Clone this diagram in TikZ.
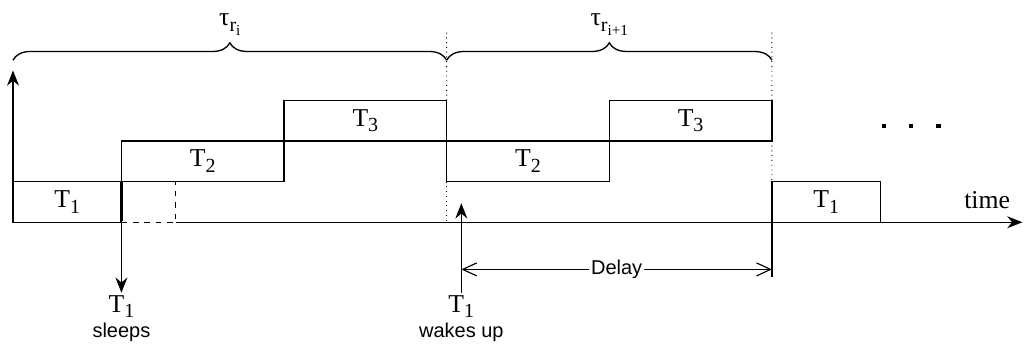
\documentclass[tikz,border=0pt]{standalone}
\usepackage{fontspec}
\setmainfont{Liberation Serif}
\setsansfont{Liberation Sans}
\usetikzlibrary{positioning,arrows.meta,decorations.pathreplacing}
\newcommand{\tsub}[1]{\raisebox{-0.22em}{\fontsize{10.5}{12}\selectfont #1}}
\newcommand{\tsubsub}[1]{\raisebox{-0.2em}{\fontsize{8}{9}\selectfont #1}}
\tikzset{
  slot/.style={draw, rectangle, anchor=south west, inner sep=0pt, outer sep=0pt,
    minimum height=0.75cm, font=\fontsize{13.5}{16}\selectfont},
  slotlabel/.style={font=\fontsize{13.5}{16}\selectfont, inner sep=1pt},
  notelabel/.style={font=\sffamily\fontsize{10.5}{12.5}\selectfont, inner sep=1pt},
  axisarrow/.style={-{Stealth[length=2.8mm,width=2.2mm]}, line width=0.7pt},
  delayarrow/.style={{Straight Barb[length=2.6mm,width=2.4mm]}-{Straight Barb[length=2.6mm,width=2.4mm]}, line width=0.6pt},
  guide/.style={dotted, line width=0.5pt},
  spanbrace/.style={decorate, decoration={brace, amplitude=0.32cm}, line width=0.7pt},
  dotsq/.style={fill, rectangle, inner sep=0pt, minimum size=0.08cm},
}

\begin{document}
\begin{tikzpicture}[line width=0.7pt]
  \useasboundingbox (-0.24,-2.25) rectangle (18.65,4.10);
  % axes
  \coordinate (origin) at (0,0);
  \coordinate (ytop) at (0,2.8);
  \coordinate (xend) at (18.62,0);
  \draw[axisarrow] (origin) -- (ytop);
  \draw[axisarrow] (origin) -- (xend);
  \node[slotlabel] (timelbl) at (17.97,0.41) {time};

  % first round
  \node[slot, minimum width=2cm] (t1a) at (0,0) {T\tsub{1}};
  \node[slot, minimum width=3cm] (t2a) at (2,0.75) {T\tsub{2}};
  \node[slot, minimum width=3cm] (t3a) at (5,1.5) {T\tsub{3}};
  % second round
  \node[slot, minimum width=3cm] (t2b) at (8,0.75) {T\tsub{2}};
  \node[slot, minimum width=3cm] (t3b) at (11,1.5) {T\tsub{3}};
  \node[slot, minimum width=2cm] (t1b) at (14,0) {T\tsub{1}};
  \foreach \i/\x in {1/16.07,2/16.57,3/17.07}
    \node[dotsq] (dots\i) at (\x,1.77) {};

  % T1 goes to sleep
  \coordinate (idle) at (3,0);
  \draw[line width=1.4pt] (t1a.south east) -- (t1a.north east);
  \draw[white, line width=1.2pt] (t1a.south east) -- (idle);
  \draw[dashed, line width=0.5pt] (t1a.south east) -- (idle) -- (idle |- t1a.north east);
  \node[slotlabel, anchor=north] (sleepT) at (2,-1.3) {T\tsub{1}};
  \node[notelabel, below=0pt of sleepT] (sleeptxt) {sleeps};
  \draw[axisarrow] (t2a.north west) -- (sleepT.north);

  % T1 wakes up
  \node[slotlabel, anchor=north] (wakeT) at (8.27,-1.3) {T\tsub{1}};
  \node[notelabel, below=0pt of wakeT] (waketxt) {wakes up};
  \coordinate (wake) at (8.27,0.35);
  \draw[axisarrow] (wakeT.north) -- (wake);

  % delay
  \coordinate (dl) at (8.27,-0.87);
  \coordinate (dr) at (14,-0.87);
  \coordinate (dend) at (14,-1.01);
  \draw (t1b.south west) -- (dend);
  \draw[delayarrow] (dl) -- (dr) node[midway, notelabel, fill=white] (delaytxt) {Delay};

  % round boundaries
  \coordinate (g1) at (8,3.52);
  \coordinate (g2) at (14,3.52);
  \draw[guide] (t3a.north east) -- (g1);
  \draw[guide] (t2b.south west) -- (t2b.south west |- origin);
  \draw[guide] (t3b.north east) -- (g2);
  \draw[guide] (t3b.south east) -- (t1b.north west);

  % braces
  \coordinate (ba) at (0,2.99);
  \coordinate (bb) at (8,2.99);
  \coordinate (bc) at (14,2.99);
  \draw[spanbrace] (ba) -- (bb);
  \draw[spanbrace] (bb) -- (bc);
  \node[slotlabel, anchor=base] (taui) at (4,3.63) {τ\tsub{r\tsubsub{i}}};
  \node[slotlabel, anchor=base] (tauj) at (11,3.63) {τ\tsub{r\tsubsub{i+1}}};
\end{tikzpicture}
\end{document}
